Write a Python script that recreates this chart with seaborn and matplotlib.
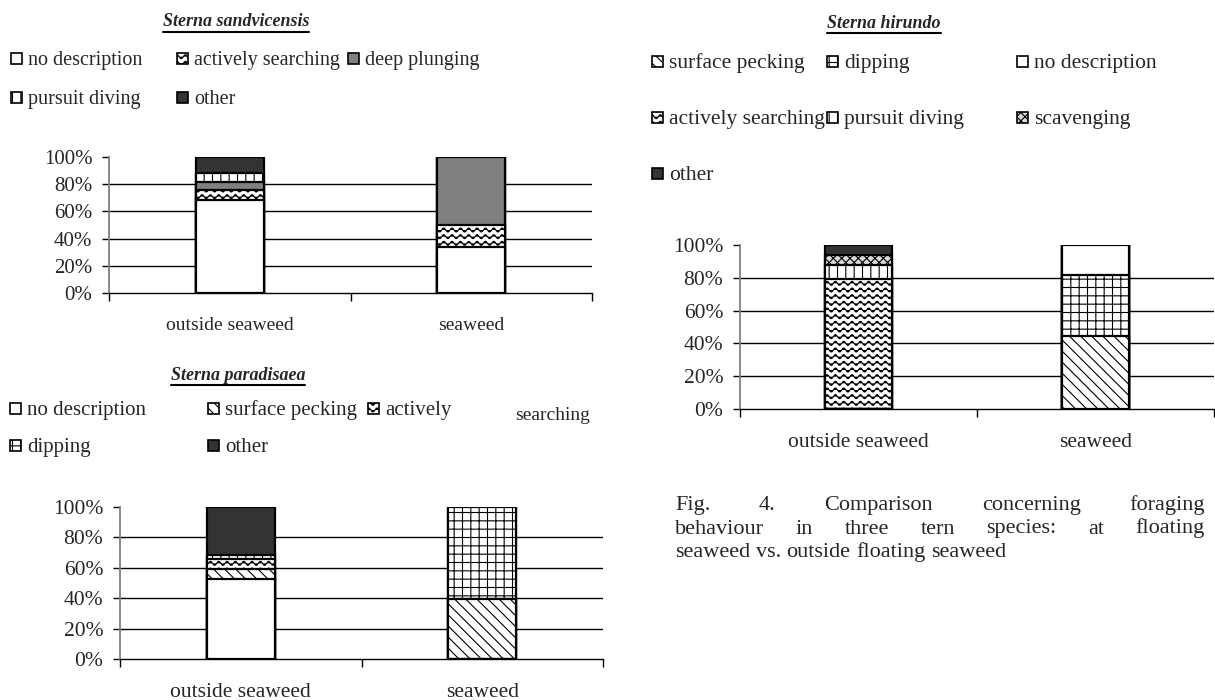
import warnings
import numpy as np
import pandas as pd
import matplotlib
matplotlib.use('Agg')
import matplotlib.pyplot as plt
import matplotlib.hatch as mhatch
from matplotlib.path import Path
from matplotlib.patches import Rectangle
from matplotlib.lines import Line2D
import seaborn as sns

warnings.filterwarnings('ignore')

sites = ['outside seaweed', 'seaweed']

# Sterna sandvicensis (% of observations, stacked bottom -> top)
sand_behaviour = ['no description', 'actively searching', 'deep plunging', 'pursuit diving', 'other']
sand_outside = [68.5, 7, 6, 7, 11.5]
sand_seaweed = [33.5, 16.5, 50, 0, 0]

# Sterna hirundo
hir_behaviour = ['surface pecking', 'dipping', 'no description', 'actively searching',
                 'pursuit diving', 'scavenging', 'other']
hir_outside = [0, 0, 0, 79.3, 8.5, 5.9, 6.3]
hir_seaweed = [44.7, 37, 18.3, 0, 0, 0, 0]

# Sterna paradisaea
par_behaviour = ['no description', 'surface pecking', 'actively searching', 'dipping', 'other']
par_outside = [52.5, 6.6, 6.6, 2.7, 31.6]
par_seaweed = [0, 39.3, 0, 60.7, 0]

y_ticks = [0, 20, 40, 60, 80, 100]
y_ticklabels = [f'{t}%' for t in y_ticks]

caption_lines = ['Fig. 4. Comparison concerning foraging',
                 'behaviour in three tern species: at floating',
                 'seaweed vs. outside floating seaweed']


# wavy hatch ("~") for the 'actively searching' pattern
class WaveHatch(mhatch.HatchPatternBase):
    def __init__(self, hatch, density):
        self.num_lines = int(hatch.count('~') * density * 1.25)
        self.num_pts = 10 * self.num_lines + 1
        self.num_vertices = self.num_lines * self.num_pts

    def set_vertices_and_codes(self, vertices, codes):
        if self.num_lines == 0:
            return
        xs = np.linspace(0, 1, self.num_pts)
        periods = max(1, int(round(self.num_lines * 0.8)))
        amp = 0.3 / self.num_lines
        for i in range(self.num_lines):
            y0 = (i + 0.5) / self.num_lines
            sl = slice(i * self.num_pts, (i + 1) * self.num_pts)
            vertices[sl, 0] = xs
            vertices[sl, 1] = y0 + amp * np.sin(2 * np.pi * periods * xs)
            codes[sl] = Path.LINETO
            codes[i * self.num_pts] = Path.MOVETO


mhatch._hatch_types.append(WaveHatch)

styles = {
    'no description': ('white', None),
    'actively searching': ('white', '~~'),
    'deep plunging': ('#808080', None),
    'pursuit diving': ('white', '||'),
    'other': ('#333333', None),
    'surface pecking': ('white', '\\\\\\'),
    'dipping': ('white', '++'),
    'scavenging': ('#d8d8d8', 'xxxx'),
}

sns.set_theme(style='white')
plt.rcParams['font.family'] = ['Liberation Serif', 'Times New Roman', 'DejaVu Serif']
plt.rcParams['hatch.linewidth'] = 0.8

W, H = 1215, 700
fig = plt.figure(figsize=(W / 100, H / 100), dpi=100)


def px(l, t, r, b):
    return [l / W, 1 - b / H, (r - l) / W, (b - t) / H]


def draw_chart(ax, behaviours, outside, seaweed, fs_tick, fs_x):
    df = pd.DataFrame({'site': np.repeat(sites, len(behaviours)),
                       'behaviour': behaviours * 2,
                       'share': outside + seaweed})
    df['top'] = df.groupby('site')['share'].cumsum()
    for g in y_ticks[1:-1]:
        ax.axhline(g, color='black', lw=1, zorder=0)
    # draw cumulative bars from the top of the stack downwards
    for b in reversed(behaviours):
        fc, h = styles[b]
        sub = df[df['behaviour'] == b]
        sns.barplot(data=sub, x='site', y='top', order=sites, color=fc, saturation=1,
                    width=0.28, edgecolor='black', linewidth=1.6, hatch=h,
                    errorbar=None, ax=ax, zorder=2)
    ax.set_xlabel('')
    ax.set_ylabel('')
    ax.set_xlim(-0.5, 1.5)
    ax.set_ylim(0, 100)
    ax.set_yticks(y_ticks)
    ax.set_yticklabels(y_ticklabels, fontsize=fs_tick)
    ax.set_xticks([0, 1])
    ax.set_xticklabels(sites, fontsize=fs_x)
    ax.set_xticks([-0.5, 0.5, 1.5], minor=True)
    ax.tick_params(axis='x', which='major', length=0, pad=17)
    ax.tick_params(axis='x', which='minor', length=6, width=1, direction='out',
                   bottom=True, color='black')
    ax.tick_params(axis='y', length=5, width=1, direction='out', left=True,
                   pad=7, color='black')
    for s in ['top', 'right']:
        ax.spines[s].set_visible(False)
    ax.spines['left'].set_color('#808080')
    ax.spines['left'].set_linewidth(1.3)
    ax.spines['bottom'].set_color('black')
    ax.spines['bottom'].set_linewidth(1)
    ax.set_facecolor('white')


def legend(entries, labels, cols_x, rows_y, fs):
    for i, (b, lab) in enumerate(zip(entries, labels)):
        x = cols_x[i % len(cols_x)]
        y = rows_y[i // len(cols_x)]
        fc, h = styles[b]
        fig.add_artist(Rectangle((x / W, 1 - (y + 5.5) / H), 11 / W, 11 / H,
                                 transform=fig.transFigure, facecolor=fc,
                                 hatch=h, edgecolor='black', lw=1.2))
        fig.text((x + 17) / W, 1 - y / H, lab, fontsize=fs,
                 va='center_baseline', ha='left')


renderer = fig.canvas.get_renderer()


def title(x, y, txt):
    t = fig.text(x / W, 1 - y / H, txt, fontsize=13, fontweight='bold',
                 fontstyle='italic', ha='center', va='center')
    bb = t.get_window_extent(renderer)
    yl = bb.y0 - 1
    fig.add_artist(Line2D([bb.x0 / W, bb.x1 / W], [yl / H, yl / H],
                          color='black', lw=1.5, transform=fig.transFigure))


ax1 = fig.add_axes(px(109, 157, 592, 293))
draw_chart(ax1, sand_behaviour, sand_outside, sand_seaweed, 15, 14)
ax2 = fig.add_axes(px(740, 245, 1214, 409))
draw_chart(ax2, hir_behaviour, hir_outside, hir_seaweed, 15.5, 15.5)
ax3 = fig.add_axes(px(120, 507, 603, 659))
draw_chart(ax3, par_behaviour, par_outside, par_seaweed, 15.5, 15.5)

title(236, 22, 'Sterna sandvicensis')
title(884, 23, 'Sterna hirundo')
title(238, 375, 'Sterna paradisaea')

legend(sand_behaviour, sand_behaviour, [11, 177, 348], [58, 97], 14.5)
legend(hir_behaviour, hir_behaviour, [652, 827, 1017], [61, 117, 173], 15.5)
par_labels = ['no description', 'surface pecking', 'actively', 'dipping', 'other']
legend(par_behaviour, par_labels, [10, 208, 368], [408, 445], 15)
fig.text(515 / W, 1 - 413 / H, 'searching', fontsize=14, va='center_baseline', ha='left')

# justified caption
cap_left, cap_right, cap_fs = 675, 1205, 16
for li, (line, y) in enumerate(zip(caption_lines, [510, 533.5, 557])):
    words = line.split()
    texts = [fig.text(0, 0, w, fontsize=cap_fs, va='baseline', ha='left') for w in words]
    widths = [t.get_window_extent(renderer).width for t in texts]
    if li < len(caption_lines) - 1:
        gap = (cap_right - cap_left - sum(widths)) / (len(words) - 1)
    else:
        gap = cap_fs * 100 / 72 * 0.25
    x = cap_left
    for t, w in zip(texts, widths):
        t.set_position((x / W, 1 - y / H))
        x += w + gap

fig.savefig('out.png', dpi=100, facecolor='white')
